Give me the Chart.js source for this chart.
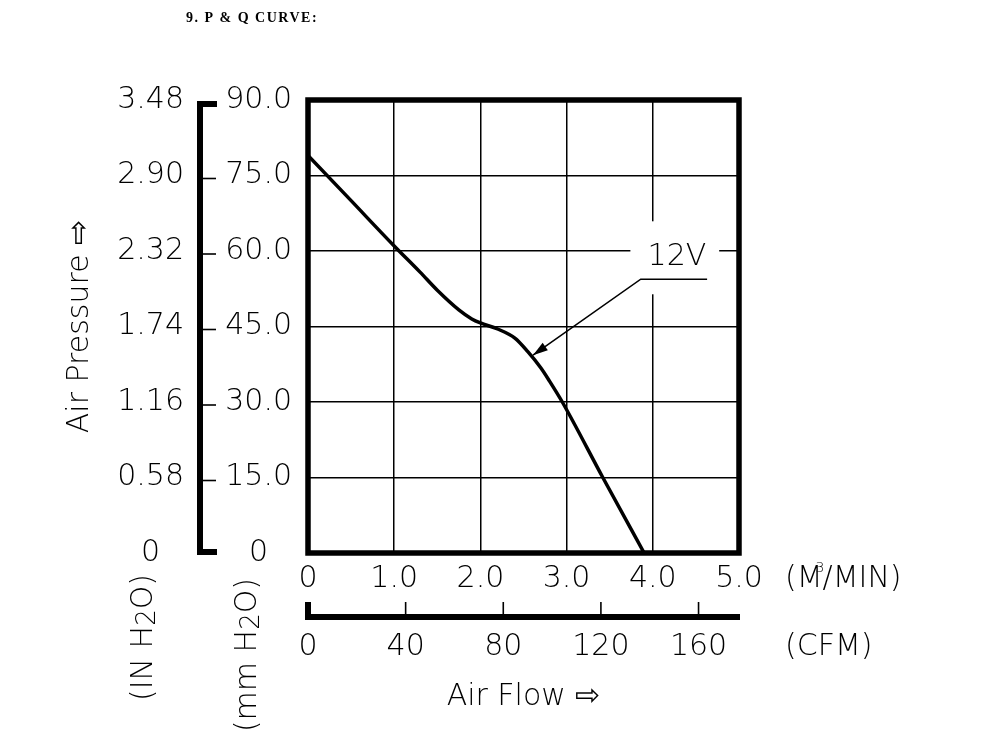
<!DOCTYPE html>
<html>
<head>
<meta charset="utf-8">
<script src="https://cdn.jsdelivr.net/npm/chart.js@4.4.1/dist/chart.umd.min.js"></script>
<style>
  html, body { margin: 0; padding: 0; background: #fff; }
</style>
</head>
<body>
<canvas id="pqChart" width="1000" height="732"></canvas>
<script>
// air flow (m3/min) and static pressure (mm H2O)
const flowM3 = [0, 0.5, 1.0, 1.3, 1.5, 1.75, 1.9, 2.0, 2.2, 2.4, 2.55, 2.7, 2.8, 2.95, 3.42, 3.9];
const pressureMm = [79, 70, 61, 55.8, 52.2, 48.3, 46.5, 45.7, 44.5, 42.7, 40.0, 36.8, 34.2, 30.0, 15.0, 0];

const flowTicks = [0, 1, 2, 3, 4, 5];
const flowTickLabels = ['0', '1.0', '2.0', '3.0', '4.0', '5.0'];
const cfmTicks = [0, 40, 80, 120, 160];
const cfmTickLabels = ['0', '40', '80', '120', '160'];
const mmTicks = [0, 15, 30, 45, 60, 75, 90];
const mmTickLabels = ['0', '15.0', '30.0', '45.0', '60.0', '75.0', '90.0'];
const inchTicks = [0, 0.58, 1.16, 1.74, 2.32, 2.90, 3.48];
const inchTickLabels = ['0', '0.58', '1.16', '1.74', '2.32', '2.90', '3.48'];

const CFM_PER_M3MIN = 35.315;

const cadFont = { family: 'DejaVu Sans', size: 30, weight: 200 };

function fixedTicks(values) {
  return scale => { scale.ticks = values.map(v => ({ value: v })); };
}
function tickLabel(values, labels) {
  return v => labels[values.findIndex(t => Math.abs(t - v) < 1e-6)];
}

// rotated text made of pieces, so the "2" in H2O can sit lower
function drawVertical(ctx, x, yEnd, parts) {
  ctx.save();
  ctx.translate(x, yEnd);
  ctx.rotate(-Math.PI / 2);
  ctx.textBaseline = 'middle';
  ctx.fillStyle = '#000';
  let total = 0;
  parts.forEach(p => { ctx.font = p.font; total += ctx.measureText(p.text).width; });
  let cx = -total;
  parts.forEach(p => {
    ctx.font = p.font;
    ctx.fillText(p.text, cx, p.dy || 0);
    cx += ctx.measureText(p.text).width;
  });
  ctx.restore();
}

const decor = {
  id: 'decor',
  beforeDraw(chart) {
    const ctx = chart.ctx;
    ctx.save();
    ctx.fillStyle = '#fff';
    ctx.fillRect(0, 0, chart.width, chart.height);
    ctx.restore();
  },
  beforeDatasetsDraw(chart) {
    const { ctx } = chart;
    const x = chart.scales.x, y = chart.scales.mm;
    // 12V tag with leader line
    const bx0 = x.getPixelForValue(3.74), bx1 = x.getPixelForValue(4.77);
    const by0 = y.getPixelForValue(65.9), by1 = y.getPixelForValue(51.4);
    ctx.save();
    ctx.fillStyle = '#fff';
    ctx.fillRect(bx0, by0, bx1 - bx0, by1 - by0);
    ctx.fillStyle = '#000';
    ctx.font = '200 30px "DejaVu Sans"';
    ctx.textAlign = 'center';
    ctx.textBaseline = 'middle';
    ctx.fillText('12V', x.getPixelForValue(4.28), y.getPixelForValue(58.7));
    const ex = x.getPixelForValue(3.86), ey = y.getPixelForValue(54.4);
    const tx = x.getPixelForValue(2.61), ty = y.getPixelForValue(39.3);
    ctx.strokeStyle = '#000';
    ctx.lineWidth = 1.6;
    ctx.beginPath();
    ctx.moveTo(x.getPixelForValue(4.63), ey);
    ctx.lineTo(ex, ey);
    ctx.lineTo(tx, ty);
    ctx.stroke();
    const ang = Math.atan2(ty - ey, tx - ex);
    const len = 15, half = 4.5;
    ctx.beginPath();
    ctx.moveTo(tx, ty);
    ctx.lineTo(tx - len * Math.cos(ang) + half * Math.sin(ang), ty - len * Math.sin(ang) - half * Math.cos(ang));
    ctx.lineTo(tx - len * Math.cos(ang) - half * Math.sin(ang), ty - len * Math.sin(ang) + half * Math.cos(ang));
    ctx.closePath();
    ctx.fill();
    ctx.restore();
  },
  afterDatasetsDraw(chart) {
    const { ctx, chartArea: a } = chart;
    const x = chart.scales.x, c = chart.scales.cfm, m = chart.scales.mm, inch = chart.scales.inch;
    ctx.save();
    ctx.strokeStyle = '#000';
    ctx.fillStyle = '#000';
    ctx.lineJoin = 'miter';

    // heavy frame
    ctx.lineWidth = 5.5;
    ctx.strokeRect(a.left, a.top, a.right - a.left, a.bottom - a.top);

    // left bracket between the two pressure scales
    const bx = m.left - 16;
    ctx.lineWidth = 6;
    ctx.beginPath();
    ctx.moveTo(m.left + 1, m.getPixelForValue(90) + 4);
    ctx.lineTo(bx, m.getPixelForValue(90) + 4);
    ctx.lineTo(bx, m.getPixelForValue(0) - 1);
    ctx.lineTo(m.left + 1, m.getPixelForValue(0) - 1);
    ctx.stroke();
    ctx.lineWidth = 1.6;
    mmTicks.slice(1, -1).forEach(v => {
      const py = m.getPixelForValue(v) + 3;
      ctx.beginPath();
      ctx.moveTo(bx, py);
      ctx.lineTo(m.left, py);
      ctx.stroke();
    });

    // CFM bar
    const barY = c.top + 16;
    const x0 = c.getPixelForValue(0);
    ctx.lineWidth = 6;
    ctx.beginPath();
    ctx.moveTo(x0, c.top + 1);
    ctx.lineTo(x0, barY);
    ctx.lineTo(c.right + 1, barY);
    ctx.stroke();
    ctx.lineWidth = 1.6;
    cfmTicks.slice(1).forEach(v => {
      const px = c.getPixelForValue(v);
      ctx.beginPath();
      ctx.moveTo(px, c.top + 1);
      ctx.lineTo(px, barY);
      ctx.stroke();
    });

    // unit captions
    const big = '200 30px "DejaVu Sans"', sub = '200 14px "DejaVu Sans"';
    ctx.font = big;
    ctx.textBaseline = 'middle';
    ctx.textAlign = 'left';
    let ux = x.right + 46;
    const uy = x.top + 8 + 18;
    ctx.fillText('(M', ux, uy);
    ux += ctx.measureText('(M').width;
    ctx.font = sub;
    ctx.fillText('3', ux - 7, uy - 11);
    ctx.font = big;
    ctx.fillText('/MIN)', ux, uy);
    ctx.fillText('(CFM)', c.right + 46, c.top + 28 + 18);

    const sub2 = '200 26px "DejaVu Sans"';
    drawVertical(ctx, inch.right - 72, a.bottom + 21, [
      { text: '(IN H', font: big }, { text: '2', font: sub2, dy: 4 }, { text: 'O)', font: big }]);
    drawVertical(ctx, m.left + 32, a.bottom + 25, [
      { text: '(mm H', font: big }, { text: '2', font: sub2, dy: 4 }, { text: 'O)', font: big }]);

    // sheet heading
    ctx.font = 'bold 14px "Liberation Serif"';
    ctx.letterSpacing = '1.5px';
    ctx.textAlign = 'left';
    ctx.fillText('9. P & Q CURVE:', 186, 18);
    ctx.restore();
  }
};

new Chart(document.getElementById('pqChart'), {
  type: 'line',
  data: {
    datasets: [{
      label: '12V',
      data: flowM3.map((v, i) => ({ x: v, y: pressureMm[i] })),
      borderColor: '#000',
      borderWidth: 3.5,
      pointRadius: 0,
      fill: false,
      tension: 0.4,
      cubicInterpolationMode: 'monotone',
      xAxisID: 'x',
      yAxisID: 'mm'
    }]
  },
  options: {
    responsive: false,
    animation: false,
    events: [],
    layout: { padding: { top: 100, right: 261, bottom: 11, left: 0 } },
    plugins: { legend: { display: false }, tooltip: { enabled: false } },
    scales: {
      x: {
        type: 'linear', position: 'bottom', weight: 0, min: 0, max: 5,
        afterBuildTicks: fixedTicks(flowTicks),
        afterFit: s => { s.height = 48; },
        border: { display: false },
        grid: { color: '#000', lineWidth: 1.5, drawTicks: false },
        ticks: { padding: 8, color: '#000', font: cadFont, maxRotation: 0, autoSkip: false,
                 callback: tickLabel(flowTicks, flowTickLabels) }
      },
      cfm: {
        type: 'linear', position: 'bottom', weight: 1, min: 0, max: 5 * CFM_PER_M3MIN,
        afterBuildTicks: fixedTicks(cfmTicks),
        afterFit: s => { s.height = 120; },
        border: { display: false },
        grid: { display: false, drawTicks: false },
        ticks: { padding: 28, color: '#000', font: cadFont, maxRotation: 0, autoSkip: false,
                 callback: tickLabel(cfmTicks, cfmTickLabels) },
        title: { display: true, text: 'Air Flow ⇨', color: '#000', font: cadFont, padding: { top: 0, bottom: 6 } }
      },
      mm: {
        type: 'linear', position: 'left', weight: 0, min: 0, max: 90,
        afterBuildTicks: fixedTicks(mmTicks),
        afterFit: s => { s.width = 92; },
        border: { display: false },
        grid: { color: '#000', lineWidth: 1.5, drawTicks: false },
        ticks: { padding: 16, crossAlign: 'center', color: '#000', font: cadFont, autoSkip: false,
                 callback: tickLabel(mmTicks, mmTickLabels) }
      },
      inch: {
        type: 'linear', position: 'left', weight: 1, min: 0, max: 3.48,
        afterBuildTicks: fixedTicks(inchTicks),
        afterFit: s => { s.width = 216; },
        border: { display: false },
        grid: { display: false, drawTicks: false },
        ticks: { padding: 32, crossAlign: 'center', color: '#000', font: cadFont, autoSkip: false,
                 callback: tickLabel(inchTicks, inchTickLabels) },
        title: { display: true, text: 'Air Pressure ⇨', color: '#000', font: cadFont, padding: { top: 62, bottom: 0 } }
      }
    }
  },
  plugins: [decor]
});
</script>
</body>
</html>
